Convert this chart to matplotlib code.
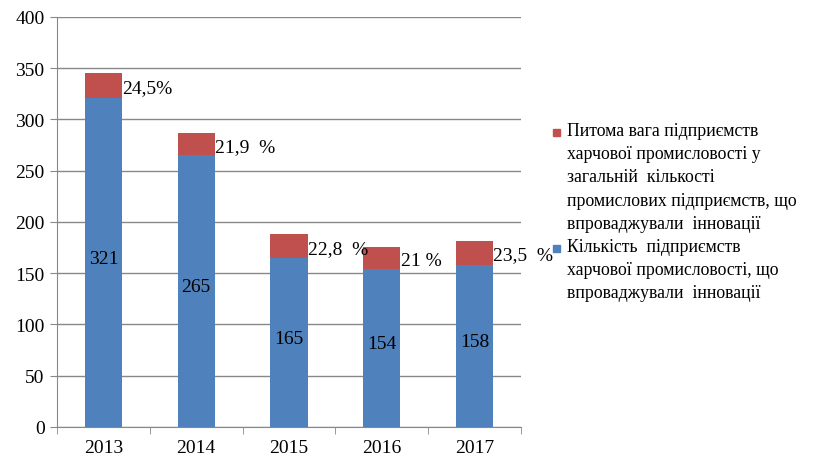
import numpy as np
import matplotlib.pyplot as plt
from matplotlib.patches import Rectangle

plt.rcParams['font.family'] = ['Liberation Serif', 'DejaVu Serif']

years = ['2013', '2014', '2015', '2016', '2017']
kilkist = [321, 265, 165, 154, 158]
pytoma = [24.5, 21.9, 22.8, 21, 23.5]
pct_labels = ['24,5%', '21,9  %', '22,8  %', '21 %', '23,5  %']

blue = '#4f81bd'
red = '#c0504d'
fs = 14

fig = plt.figure(figsize=(8.28, 4.6), dpi=100)
ax = fig.add_axes([0.069, 0.070, 0.560, 0.891])

x = np.arange(len(years))
w = 0.4
ax.bar(x, kilkist, w, color=blue, zorder=3)
ax.bar(x, pytoma, w, bottom=kilkist, color=red, zorder=3)

for i in range(len(years)):
    ax.text(x[i], kilkist[i] / 2 + 4, str(kilkist[i]), ha='center', va='center', fontsize=fs, zorder=4)
    ax.text(x[i] + w / 2 + 0.005, kilkist[i] + pytoma[i] / 2 - 2, pct_labels[i], ha='left', va='center',
            fontsize=fs, zorder=4)

ax.set_xlim(-0.5, len(years) - 0.5)
ax.set_ylim(0, 400)
ax.set_yticks(range(0, 401, 50))
ax.set_xticks(x)
ax.set_xticklabels(years)
ax.set_xticks(np.arange(-0.5, len(years), 1), minor=True)
ax.tick_params(axis='x', which='major', length=0, labelsize=fs, pad=9)
ax.tick_params(axis='x', which='minor', length=5, color='#888888', direction='out')
ax.tick_params(axis='y', length=5, color='#888888', labelsize=fs, pad=4)
ax.grid(axis='y', color='#888888', linewidth=1, zorder=0)
for s in ['top', 'right']:
    ax.spines[s].set_visible(False)
ax.spines['left'].set_color('#888888')
ax.spines['bottom'].set_color('#888888')

# legend, drawn by hand so that the squares sit at the first line
names = ['Питома вага підприємств\nхарчової промисловості у\nзагальній  кількості\nпромислових підприємств, що\nвпроваджували  інновації',
         'Кількість  підприємств\nхарчової промисловості, що\nвпроваджували  інновації']
cols = [red, blue]
tops = [123, 239]
W, H = 828, 460
for name, c, t in zip(names, cols, tops):
    fig.patches.append(Rectangle((553 / W, 1 - (t + 14) / H), 7 / W, 7 / H,
                                 transform=fig.transFigure, color=c, figure=fig))
    fig.text(567 / W, 1 - t / H, name, ha='left', va='top', fontsize=12.8, linespacing=1.48)

fig.savefig('out.png', dpi=100)
